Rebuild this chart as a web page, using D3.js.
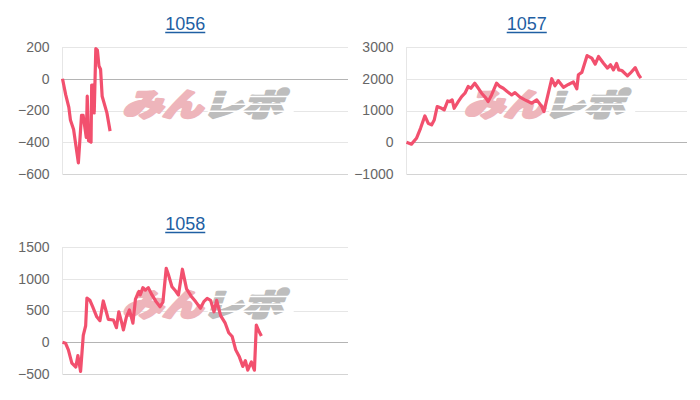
<!DOCTYPE html>
<html>
<head>
<meta charset="utf-8">
<script src="https://cdn.jsdelivr.net/npm/d3@7"></script>
<style>
  body { margin: 0; background: #fff; }
  svg { display: block; }
</style>
</head>
<body>
<main></main>
<script>
// machine numbers shown as panel titles
const machines = ['1056', '1057', '1058'];

// y tick labels for each panel
const ticks1056 = [200, 0, -200, -400, -600];
const ticks1057 = [3000, 2000, 1000, 0, -1000];
const ticks1058 = [1500, 1000, 500, 0, -500];

// x: games played, y: coin difference
const games1056 = [0, 100, 200, 250, 350, 500, 600, 650, 750, 780, 820, 900, 920, 970, 1000, 1050, 1100, 1150, 1200, 1250, 1400, 1500];
const diff1056  = [0, -100, -180, -260, -320, -530, -230, -230, -370, -110, -390, -400, -40, -40, -215, 190, 180, 80, 60, -110, -215, -330];

const games1057 = [0, 160, 320, 450, 590, 695, 805, 890, 985, 1125, 1210, 1320, 1390, 1465, 1530, 1660, 1770, 1875, 1980, 2065,
  2190, 2265, 2410, 2550, 2620, 2730, 2890, 3000, 3105, 3230, 3375, 3480, 3640, 3800, 4020, 4180, 4340, 4410, 4660, 4765,
  4870, 5035, 5195, 5355, 5465, 5515, 5625, 5795, 5945, 6055, 6160, 6320, 6450, 6545, 6640, 6740, 6810, 6910, 7090, 7180,
  7340, 7445, 7520];
const diff1057  = [0, -60, 125, 440, 830, 600, 545, 700, 1125, 1070, 1020, 1300, 1280, 1335, 1070, 1280, 1440, 1545, 1755, 1700,
  1860, 1755, 1545, 1390, 1280, 1490, 1860, 1755, 1700, 1600, 1490, 1565, 1420, 1335, 1230, 1335, 1125, 965, 2000, 1780,
  1940, 1730, 1820, 1900, 1680, 2125, 2200, 2730, 2650, 2460, 2700, 2490, 2335, 2440, 2280, 2480, 2280, 2260, 2090, 2175,
  2350, 2125, 2020];

const games1058 = [0, 95, 185, 295, 420, 485, 570, 655, 730, 770, 865, 950, 1080, 1180, 1285, 1380, 1445, 1605, 1700, 1775,
  1870, 1920, 2015, 2110, 2220, 2300, 2410, 2450, 2535, 2610, 2705, 2820, 2950, 3075, 3165, 3270, 3335, 3450, 3560, 3655,
  3780, 3910, 4050, 4195, 4350, 4455, 4560, 4670, 4775, 4860, 4985, 5130, 5240, 5350, 5460, 5575, 5685, 5765, 5840, 5955,
  6050, 6110, 6200, 6270];
const diff1058  = [0, -15, -120, -330, -390, -210, -460, 110, 260, 695, 660, 560, 400, 340, 650, 480, 360, 350, 230, 480,
  300, 195, 400, 510, 300, 680, 800, 745, 860, 820, 860, 745, 640, 560, 630, 1165, 1070, 875, 810, 745,
  1150, 840, 730, 640, 535, 640, 690, 660, 480, 660, 420, 300, 150, 90, -120, -230, -380, -290, -440, -310,
  -440, 270, 165, 100];

const gameMax = 9000;

const width = 700;
const height = 400;

const panels = [
  {title: machines[0], games: games1056, diff: diff1056, ticks: ticks1056, x0: 62.5, x1: 348, y0: 47, y1: 174, ty: 30},
  {title: machines[1], games: games1057, diff: diff1057, ticks: ticks1057, x0: 406.5, x1: 687, y0: 47, y1: 174, ty: 30},
  {title: machines[2], games: games1058, diff: diff1058, ticks: ticks1058, x0: 62.5, x1: 348, y0: 247, y1: 374, ty: 230}
];

const svg = d3.select('main').append('svg')
  .attr('width', width)
  .attr('height', height);

const drawPanel = (p) => {
  const x = d3.scaleLinear().domain([0, gameMax]).range([p.x0, p.x1]);
  const y = d3.scaleLinear().domain(d3.extent(p.ticks)).range([p.y1, p.y0]);
  const g = svg.append('g');

  // title (link style)
  const cx = (p.x0 + p.x1) / 2 - 20;
  const title = g.append('text')
    .attr('x', cx)
    .attr('y', p.ty)
    .attr('text-anchor', 'middle')
    .style('font-family', '"Liberation Sans", Arial, sans-serif')
    .style('font-size', '18px')
    .style('fill', '#1f5fa3')
    .text(p.title);
  const tw = title.node().getComputedTextLength();
  g.append('line')
    .attr('x1', cx - tw / 2).attr('x2', cx + tw / 2)
    .attr('y1', p.ty + 2.5).attr('y2', p.ty + 2.5)
    .style('stroke', '#1f5fa3')
    .style('stroke-width', 1.3);

  // grid
  g.append('g').selectAll('line')
    .data(p.ticks)
    .enter().append('line')
    .attr('x1', p.x0).attr('x2', p.x1)
    .attr('y1', d => Math.round(y(d)) + 0.5)
    .attr('y2', d => Math.round(y(d)) + 0.5)
    .style('stroke', d => d === 0 ? '#b4b4b4' : (d === p.ticks[p.ticks.length - 1] ? '#d4d4d4' : '#e6e6e6'))
    .style('stroke-width', 1);

  g.append('line')
    .attr('x1', p.x0).attr('x2', p.x0)
    .attr('y1', p.y0).attr('y2', p.y1)
    .style('stroke', '#e6e6e6');

  // y labels
  const yAxis = d3.axisLeft(y).tickValues(p.ticks).tickFormat(d3.format('d')).tickSize(0).tickPadding(13);
  const ax = g.append('g')
    .attr('transform', `translate(${p.x0},0)`)
    .call(yAxis);
  ax.select('.domain').remove();
  ax.selectAll('text')
    .style('font-family', '"Liberation Sans", Arial, sans-serif')
    .style('font-size', '14px')
    .style('fill', '#666');

  // watermark
  const wcx = (p.x0 + p.x1) / 2 - 3;
  const wy = p.y0 + 69;
  const wm = g.append('g')
    .attr('transform', `translate(${wcx},${wy}) skewX(-18) scale(1,0.78)`);
  const wt = wm.append('text')
    .attr('text-anchor', 'middle')
    .style('font-family', '"Noto Sans CJK JP", sans-serif')
    .style('font-weight', 900)
    .style('font-size', '40px')
    .style('stroke-width', 3.5)
    .style('stroke-linejoin', 'round');
  wt.append('tspan').style('fill', '#eeb5bb').style('stroke', '#eeb5bb').text('みん');
  wt.append('tspan').style('fill', '#bdbdbd').style('stroke', '#bdbdbd').text('レポ');
  wm.selectAll('rect.stripe')
    .data([-26, -16, -7])
    .enter().append('rect')
    .attr('x', 4).attr('width', 86)
    .attr('y', d => d).attr('height', 2)
    .style('fill', '#fff');

  // line
  const line = d3.line()
    .x((d, i) => x(p.games[i]))
    .y(d => y(d));
  g.append('path')
    .datum(p.diff)
    .attr('d', line)
    .style('fill', 'none')
    .style('stroke', '#f2506e')
    .style('stroke-width', 3.2)
    .style('stroke-linejoin', 'round');
};

panels.forEach(drawPanel);
</script>
</body>
</html>
